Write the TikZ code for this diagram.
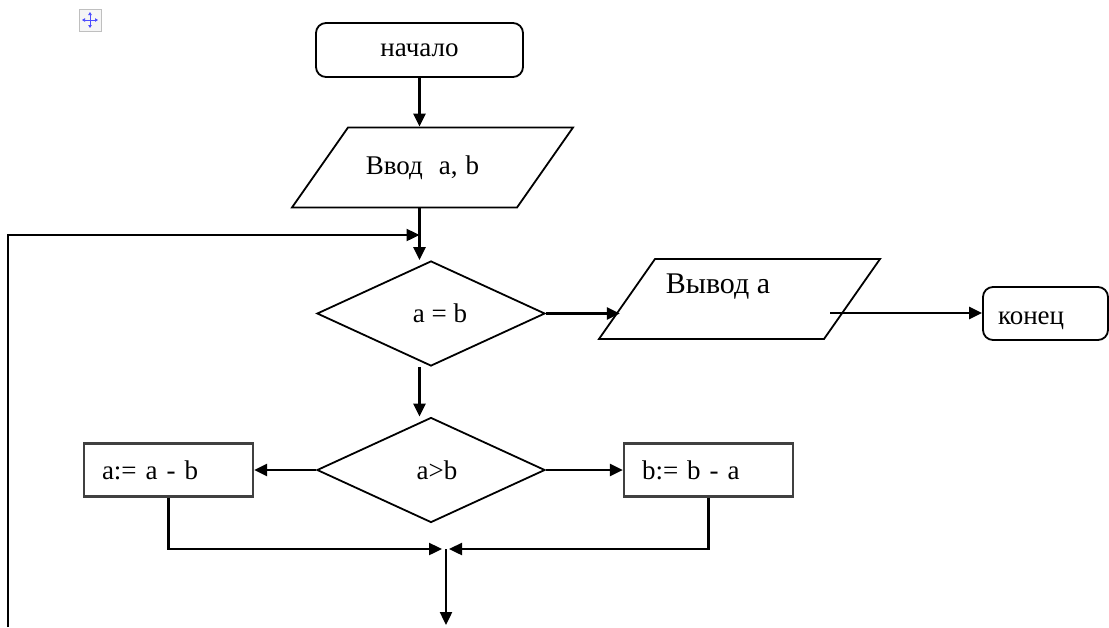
\documentclass[tikz,border=0pt]{standalone}
\usepackage{fontspec}
\setmainfont{Liberation Serif}
\usetikzlibrary{shapes.geometric,arrows.meta}

\begin{document}
\begin{tikzpicture}[x=1pt,y=-1pt]

\tikzset{VertexStyle/.style = {draw,
                               line width = 1.8pt,
                               inner sep  = 0pt,
                               font       = \fontsize{27}{32}\selectfont},
         TermStyle/.style   = {VertexStyle, rounded corners=10pt},
         DataStyle/.style   = {VertexStyle, trapezium,
                               trapezium left angle  = 55,
                               trapezium right angle = 125,
                               text width = 169pt, align=center,
                               text height = 20pt, text depth = 6pt,
                               inner ysep = 27pt},
         TestStyle/.style   = {VertexStyle, diamond,
                               minimum width = 228pt, minimum height = 105pt},
         ProcStyle/.style   = {VertexStyle, line width=2.2pt, draw=black!75,
                               minimum width = 169pt, minimum height = 53pt,
                               text width = 133pt, align=left}}

\useasboundingbox (0,0) rectangle (1109,627);

%%% move handle in the corner
\draw[fill=gray!8, draw=gray!50] (79,9) rectangle (101,31);
\draw[blue!70, line width=1pt, {Triangle[length=3pt,width=3.5pt]}-{Triangle[length=3pt,width=3.5pt]}] (82,20) -- (98,20);
\draw[blue!70, line width=1pt, {Triangle[length=3pt,width=3.5pt]}-{Triangle[length=3pt,width=3.5pt]}] (90,12) -- (90,28);

   \node[TermStyle, minimum width=207pt, minimum height=54pt] (A) at (419.5,50) {начало};
   \node[DataStyle] (B) at (432.5,167.5) {\hspace*{-20pt}Ввод\hspace{16pt}a,\hspace{8pt}b};
   \node[TestStyle] (C) at (431,313.5) {\hspace*{18pt}a = b};
   \node[DataStyle] (D) at (739.5,299) {};
   \node[font=\fontsize{30}{35}\selectfont] (Dt) at (718,287) {Вывод а};
   \node[TermStyle, minimum width=125pt, minimum height=53pt,
         text width=95pt, align=left] (F) at (1045.5,313.5) {\smash{\raisebox{-11pt}{конец}}};
   \node[TestStyle] (E) at (431,470) {\hspace*{12pt}a>b};
   \node[ProcStyle] (G) at (168.5,470) {a:= a - b};
   \node[ProcStyle] (H) at (708.5,470) {b:= b - a};

   \coordinate (M) at (419.5,235);
   \coordinate (L) at (8,627);
   \coordinate (Dout) at (830,313);
   \coordinate (J) at (446,549);
   \coordinate (K) at (446,625);

  \tikzset{EdgeStyle/.style = {-{Triangle[length=13pt,width=12pt]}, line width=2.4pt},
           LineStyle/.style = {line width=2.4pt}}

  \draw[EdgeStyle] (A.south) -- (A.south |- B.north);
  \draw[LineStyle] (A.south |- B.south) -- (M);
  \draw[EdgeStyle] (M) -- (A.south |- C.north);
  \draw[EdgeStyle] (L) |- (M);
  \draw[EdgeStyle] (C.east) -- ([xshift=-6pt]C.east -| D.west);
  \draw[EdgeStyle] (Dout) -- (Dout -| F.west);
  \draw[EdgeStyle] (A.south |- C.south) -- (A.south |- E.north);
  \draw[EdgeStyle] (E.west) -- (G.east);
  \draw[EdgeStyle] (E.east) -- (H.west);
  \draw[EdgeStyle] (G.south) |- ([xshift=-4pt]J);
  \draw[EdgeStyle] (H.south) |- ([xshift=3pt]J);
  \draw[EdgeStyle] (J) -- (K);

\end{tikzpicture}
\end{document}
